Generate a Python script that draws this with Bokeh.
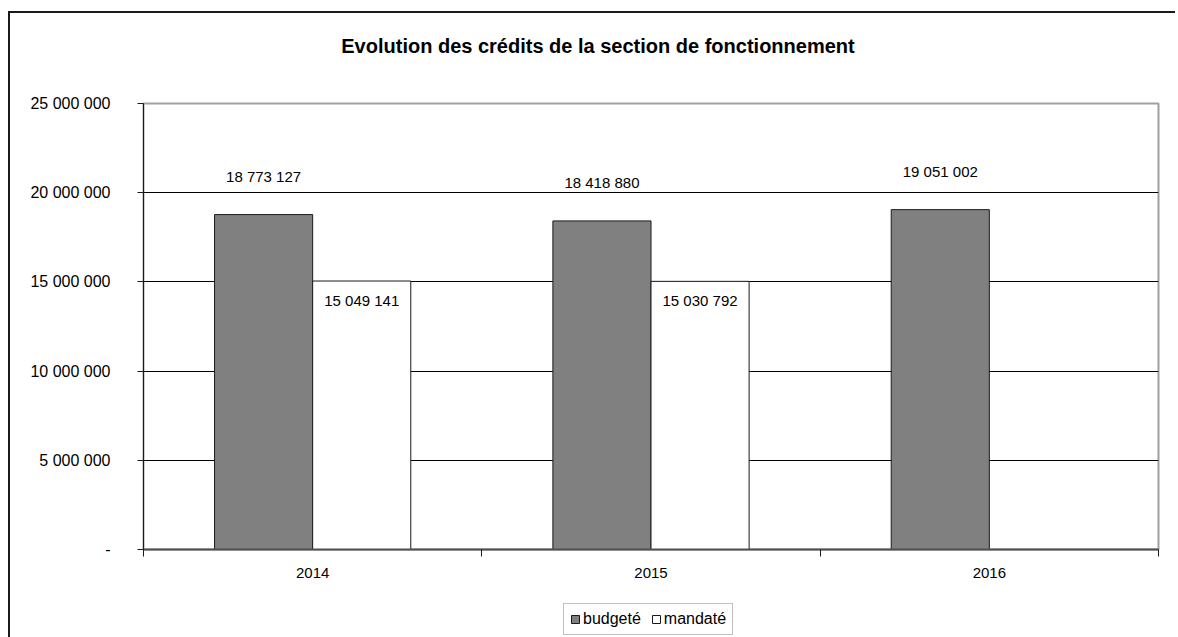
from bokeh.plotting import figure
from bokeh.models import ColumnDataSource, FixedTicker, Legend, LegendItem, Range1d, Div
from bokeh.layouts import column
from bokeh.core.properties import value
from bokeh.embed import file_html
from bokeh.resources import INLINE

title = "Evolution des crédits de la section de fonctionnement"
years = ["2014", "2015", "2016"]
budgete = [18773127, 18418880, 19051002]
mandate = [15049141, 15030792, 0]
series_names = ["budgeté", "mandaté"]
y_ticks = [0, 5000000, 10000000, 15000000, 20000000, 25000000]

FONT = "Liberation Sans"
W = 1168


def fmt(v):
    return f"{v:,}".replace(",", " ")


idx = list(range(len(years)))
src_b = ColumnDataSource(dict(x=[i + 0.5 - 0.145 for i in idx], top=budgete,
                              lbl=[fmt(v) for v in budgete]))
src_m = ColumnDataSource(dict(x=[i + 0.5 + 0.145 for i in idx], top=mandate))
lab_m = [(i, v) for i, v in zip(idx, mandate) if v > 0]
src_ml = ColumnDataSource(dict(x=[i + 0.5 + 0.145 for i, v in lab_m], y=[v for i, v in lab_m],
                               lbl=[fmt(v) for i, v in lab_m]))

head = Div(text=('<div style="width:%dpx; box-sizing:border-box; padding-left:8px; padding-top:22px; '
                 'text-align:center; font-family:\'Liberation Sans\'; font-size:20px; '
                 'font-weight:bold; color:black; line-height:23px;">%s</div>') % (W, title),
           width=W, height=70, margin=0)

p = figure(width=W, height=517, x_range=Range1d(0, len(years)), y_range=Range1d(0, 25000000),
           output_backend="svg", toolbar_location=None,
           min_border_left=133, min_border_right=20, min_border_top=20, min_border_bottom=51)
p.background_fill_color = "white"
p.border_fill_color = "white"
p.outline_line_color = "#a0a0a0"
p.outline_line_width = 2

p.xgrid.visible = False
p.ygrid.ticker = FixedTicker(ticks=y_ticks[1:-1])
p.ygrid.grid_line_color = "black"
p.ygrid.grid_line_width = 1

# y axis
p.yaxis.ticker = FixedTicker(ticks=y_ticks)
p.yaxis.major_label_overrides = {t: (fmt(t) if t else "-") for t in y_ticks}
p.yaxis.major_label_text_font = FONT
p.yaxis.major_label_text_font_size = "16px"
p.yaxis.major_label_text_color = "black"
p.yaxis.major_tick_out = 6
p.yaxis.major_tick_in = 0
p.yaxis.major_tick_line_color = "#1a1a1a"
p.yaxis.minor_tick_line_color = None
p.yaxis.axis_line_color = "#1a1a1a"
p.yaxis.major_label_standoff = 27

# x axis
p.xaxis.ticker = FixedTicker(ticks=[i + 0.5 for i in idx], minor_ticks=list(range(len(years) + 1)))
p.xaxis.major_label_overrides = {i + 0.5: y for i, y in zip(idx, years)}
p.xaxis.major_label_text_font = FONT
p.xaxis.major_label_text_font_size = "15px"
p.xaxis.major_label_text_color = "black"
p.xaxis.major_tick_line_color = None
p.xaxis.minor_tick_out = 7
p.xaxis.minor_tick_in = 0
p.xaxis.minor_tick_line_color = "#1a1a1a"
p.xaxis.axis_line_color = "#505050"
p.xaxis.axis_line_width = 2
p.xaxis.major_label_standoff = 11

p.vbar(x="x", top="top", width=0.29, bottom=0, source=src_b,
       fill_color="#808080", line_color="#1a1a1a", line_width=1)
p.vbar(x="x", top="top", width=0.29, bottom=0, source=src_m,
       fill_color="white", line_color="#1a1a1a", line_width=1)

p.text(x="x", y="top", text="lbl", source=src_b, text_align="center", text_baseline="middle",
       y_offset=-38, text_font=value(FONT), text_font_size="15px", text_color="black")
p.text(x="x", y="y", text="lbl", source=src_ml, text_align="center", text_baseline="middle",
       y_offset=19, text_font=value(FONT), text_font_size="15px", text_color="black")

# legend strip: its renderers are hidden, only the legend is shown
p2 = figure(width=W, height=37, x_range=Range1d(100, 101), y_range=Range1d(0, 1),
            output_backend="svg", toolbar_location=None, min_border=0,
            x_axis_location=None, y_axis_location=None)
p2.outline_line_color = None
p2.grid.visible = False
p2.background_fill_color = "white"
p2.border_fill_color = "white"
lb = p2.vbar(x="x", top="top", width=0.29, source=src_b,
             fill_color="#808080", line_color="#1a1a1a", line_width=1, visible=False)
lm = p2.vbar(x="x", top="top", width=0.29, source=src_m,
             fill_color="white", line_color="#1a1a1a", line_width=1, visible=False)

legend = Legend(items=[LegendItem(label=series_names[0], renderers=[lb]),
                       LegendItem(label=series_names[1], renderers=[lm])],
                location=(420, 2), orientation="horizontal")
legend.label_text_font = FONT
legend.label_text_font_size = "16px"
legend.label_text_color = "black"
legend.glyph_width = 10
legend.glyph_height = 10
legend.label_standoff = 3
legend.spacing = 10
legend.padding = 6
legend.margin = 0
legend.border_line_color = "#808080"
legend.border_line_width = 1
legend.background_fill_color = "white"
legend.background_fill_alpha = 1
legend.inactive_fill_alpha = 0
legend.label_height = 18
p2.add_layout(legend)

layout = column(head, p, p2, spacing=0,
                styles={"border-left": "2px solid #1a1a1a", "border-top": "2px solid #1a1a1a",
                        "border-right": "none", "border-bottom": "none",
                        "outline": "none", "box-shadow": "none",
                        "box-sizing": "content-box", "clip-path": "inset(0px 3px 0px 0px)",
                        "margin-left": "8px", "margin-top": "11px"})

open("out.html", "w").write(file_html(layout, INLINE))
